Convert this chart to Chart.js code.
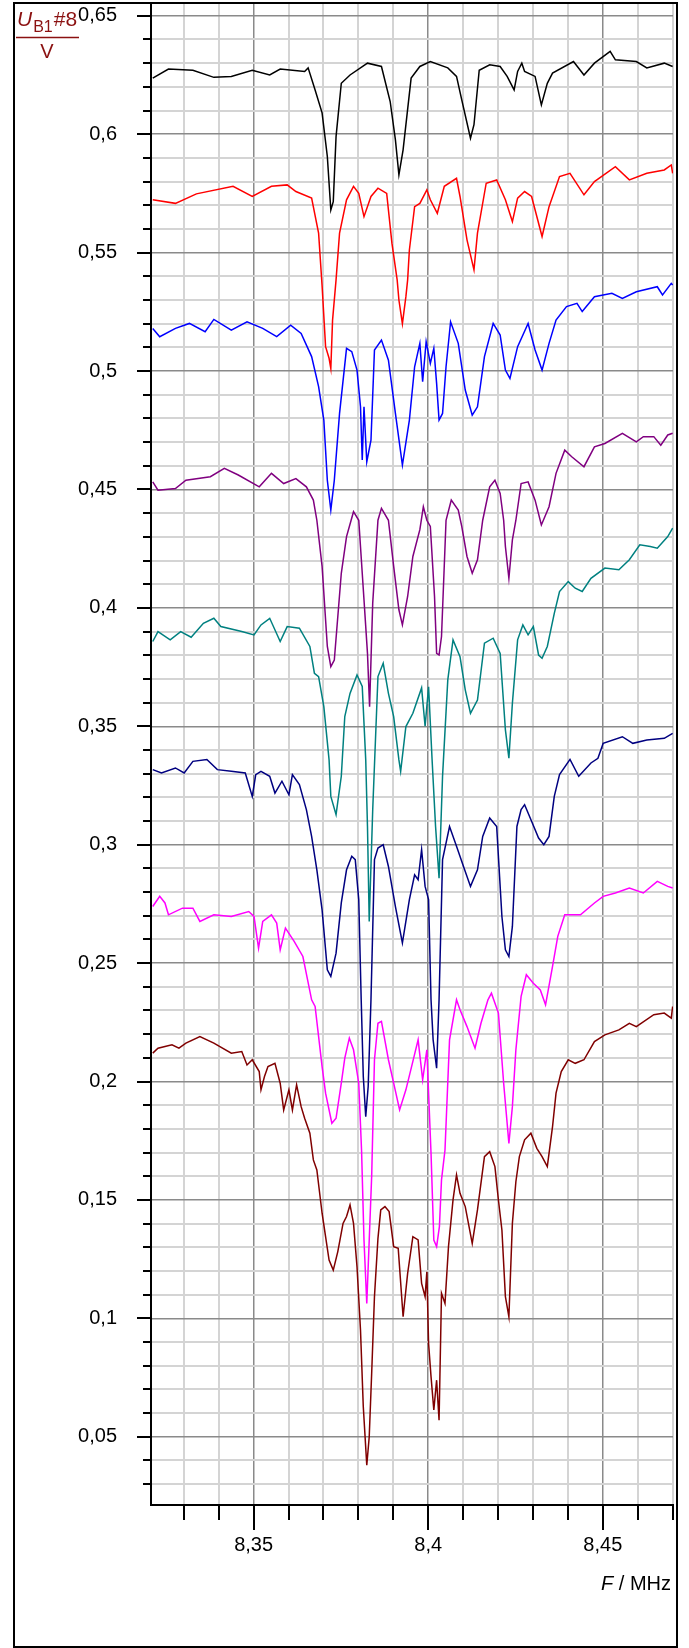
<!DOCTYPE html>
<html>
<head>
<meta charset="utf-8">
<script src="https://cdn.jsdelivr.net/npm/chart.js@4.4.0/dist/chart.umd.min.js"></script>
<style>
  html, body { margin: 0; padding: 0; background: #fff; }
  canvas { display: block; }
</style>
</head>
<body>
<canvas id="spektrum" width="689" height="1648"></canvas>
<script>

var kurveSchwarz = [[8.3211,0.6237],[8.3256,0.6275],[8.3326,0.627],[8.3386,0.624],[8.3436,0.6244],[8.3496,0.627],[8.3546,0.625],[8.3576,0.6275],[8.3646,0.6265],[8.3656,0.628],[8.3676,0.6187],[8.3696,0.609],[8.3711,0.5906],[8.3721,0.568],[8.3728,0.5715],[8.3736,0.599],[8.3751,0.6215],[8.3776,0.625],[8.3826,0.63],[8.3866,0.6286],[8.3891,0.6138],[8.3906,0.5976],[8.3916,0.5828],[8.3928,0.5934],[8.3951,0.6237],[8.3976,0.6286],[8.4006,0.6307],[8.4056,0.628],[8.4081,0.6244],[8.4096,0.6145],[8.4121,0.5983],[8.4131,0.604],[8.4146,0.627],[8.4176,0.6293],[8.4206,0.6286],[8.4226,0.6244],[8.4246,0.6187],[8.4256,0.6265],[8.4268,0.63],[8.4276,0.6265],[8.4306,0.6244],[8.4324,0.6124],[8.4341,0.6215],[8.4356,0.6258],[8.4416,0.6307],[8.4446,0.625],[8.4476,0.63],[8.4521,0.635],[8.4536,0.6314],[8.4596,0.6307],[8.4626,0.628],[8.4676,0.63],[8.47,0.6286]];

var kurveRot = [[8.3211,0.5723],[8.3276,0.5708],[8.3336,0.5748],[8.3441,0.578],[8.3496,0.5737],[8.3551,0.578],[8.3596,0.5786],[8.3621,0.5758],[8.3666,0.573],[8.3686,0.5582],[8.3696,0.536],[8.3706,0.5103],[8.3716,0.5054],[8.3721,0.5011],[8.3726,0.5215],[8.3736,0.5385],[8.3746,0.5582],[8.3766,0.5723],[8.3786,0.578],[8.3801,0.575],[8.3816,0.5652],[8.3836,0.5737],[8.3856,0.5772],[8.3881,0.575],[8.3896,0.554],[8.3911,0.5385],[8.3916,0.53],[8.3926,0.52],[8.3936,0.5314],[8.3941,0.5385],[8.3946,0.5511],[8.3961,0.5694],[8.3976,0.5708],[8.3996,0.5765],[8.4006,0.5723],[8.4026,0.5666],[8.4046,0.578],[8.4081,0.5814],[8.4091,0.5737],[8.4111,0.5554],[8.4131,0.5427],[8.4141,0.5582],[8.4166,0.5793],[8.4196,0.5807],[8.4221,0.5723],[8.4241,0.5631],[8.4256,0.573],[8.4276,0.5758],[8.4296,0.5737],[8.4326,0.5568],[8.4346,0.5694],[8.4376,0.5821],[8.4406,0.5835],[8.4446,0.5744],[8.4476,0.58],[8.4536,0.5863],[8.4576,0.5807],[8.4626,0.5835],[8.4676,0.5849],[8.4696,0.587],[8.47,0.5835]];

var kurveBlau = [[8.3211,0.518],[8.3231,0.5145],[8.3276,0.518],[8.3316,0.5201],[8.3361,0.5166],[8.3386,0.5218],[8.3436,0.5173],[8.3481,0.5208],[8.3526,0.518],[8.3566,0.5145],[8.3606,0.5194],[8.3636,0.5159],[8.3666,0.5061],[8.3686,0.4934],[8.3701,0.4793],[8.3711,0.4539],[8.3721,0.4413],[8.3731,0.4539],[8.3746,0.4821],[8.3766,0.5096],[8.3781,0.5082],[8.3796,0.5004],[8.3806,0.4849],[8.3811,0.4624],[8.3816,0.4849],[8.3824,0.4617],[8.3836,0.4708],[8.3846,0.5089],[8.3866,0.5131],[8.3886,0.5046],[8.3906,0.4821],[8.3926,0.4603],[8.3946,0.4793],[8.3961,0.5018],[8.3976,0.5117],[8.3984,0.4955],[8.3994,0.5124],[8.4006,0.5032],[8.4016,0.5096],[8.4024,0.4948],[8.4031,0.4793],[8.4041,0.4821],[8.4051,0.5018],[8.4064,0.5208],[8.4086,0.5117],[8.4106,0.492],[8.4126,0.4814],[8.4141,0.4849],[8.4161,0.5061],[8.4186,0.5201],[8.4206,0.5152],[8.4221,0.5004],[8.4234,0.4969],[8.4256,0.5103],[8.4286,0.5201],[8.4306,0.5089],[8.4326,0.5004],[8.4346,0.5117],[8.4366,0.5215],[8.4396,0.5272],[8.4426,0.5286],[8.4441,0.5251],[8.4476,0.5314],[8.4526,0.5328],[8.4556,0.5307],[8.4596,0.5335],[8.4656,0.5356],[8.4671,0.5321],[8.4696,0.537],[8.47,0.5363]];

var kurveLila = [[8.3211,0.4532],[8.3226,0.4497],[8.3276,0.4504],[8.3306,0.4539],[8.3376,0.4554],[8.3416,0.4589],[8.3456,0.4561],[8.3516,0.4511],[8.3551,0.4568],[8.3586,0.4525],[8.3621,0.4546],[8.3651,0.4511],[8.3671,0.4455],[8.3681,0.437],[8.3696,0.4175],[8.3711,0.3837],[8.3721,0.3752],[8.3731,0.378],[8.3751,0.4146],[8.3766,0.4301],[8.3786,0.4406],[8.3801,0.437],[8.3816,0.4034],[8.3826,0.3808],[8.3832,0.3583],[8.3841,0.402],[8.3856,0.437],[8.3866,0.442],[8.3886,0.437],[8.3901,0.4175],[8.3916,0.3992],[8.3926,0.3928],[8.3941,0.4048],[8.3956,0.4217],[8.3976,0.433],[8.3986,0.4427],[8.3996,0.437],[8.4006,0.4344],[8.4018,0.4048],[8.4024,0.3808],[8.4031,0.3801],[8.4038,0.3879],[8.4051,0.437],[8.4066,0.4455],[8.4086,0.4413],[8.4096,0.4344],[8.4111,0.4217],[8.4126,0.4146],[8.4141,0.4203],[8.4156,0.437],[8.4176,0.4511],[8.4191,0.4539],[8.4206,0.4483],[8.4216,0.437],[8.4221,0.4259],[8.4231,0.4125],[8.4241,0.4287],[8.4251,0.437],[8.4266,0.4525],[8.4286,0.4532],[8.4306,0.4455],[8.4324,0.435],[8.4346,0.4427],[8.4366,0.4568],[8.4391,0.4666],[8.4411,0.4638],[8.4446,0.4596],[8.4476,0.468],[8.4506,0.4694],[8.4556,0.4737],[8.4596,0.4701],[8.4616,0.4723],[8.4646,0.4723],[8.4666,0.4687],[8.4686,0.473],[8.47,0.4737]];

var kurveTuerkis = [[8.3211,0.3858],[8.3226,0.39],[8.3261,0.3865],[8.3291,0.39],[8.3321,0.3876],[8.3356,0.3935],[8.3386,0.3956],[8.3406,0.3921],[8.3466,0.39],[8.3501,0.3886],[8.3521,0.3928],[8.3546,0.3956],[8.3576,0.3858],[8.3596,0.3921],[8.3631,0.3914],[8.3661,0.3837],[8.3674,0.3724],[8.3686,0.371],[8.3701,0.3583],[8.3716,0.3358],[8.3721,0.3204],[8.3736,0.3127],[8.3751,0.3289],[8.3761,0.3541],[8.3776,0.3639],[8.3796,0.3717],[8.3811,0.3668],[8.3821,0.3358],[8.3826,0.3077],[8.3831,0.2676],[8.3841,0.3148],[8.3856,0.371],[8.3871,0.3766],[8.3886,0.3639],[8.3901,0.3541],[8.3916,0.3358],[8.3921,0.331],[8.3936,0.3499],[8.3956,0.3555],[8.3981,0.3662],[8.3991,0.35],[8.4001,0.3667],[8.4011,0.336],[8.4021,0.3077],[8.4031,0.2859],[8.4041,0.3289],[8.4056,0.3696],[8.4071,0.3865],[8.4091,0.3794],[8.4106,0.3654],[8.4121,0.3555],[8.4141,0.3611],[8.4161,0.3851],[8.4186,0.3872],[8.4206,0.3808],[8.4221,0.3485],[8.4231,0.3365],[8.4241,0.3597],[8.4256,0.3865],[8.4271,0.3928],[8.4286,0.3886],[8.4301,0.3921],[8.4316,0.3801],[8.4326,0.3787],[8.4341,0.3837],[8.4361,0.3977],[8.4376,0.4069],[8.4401,0.4111],[8.4421,0.4083],[8.4441,0.4069],[8.4466,0.4125],[8.4506,0.4168],[8.4546,0.4161],[8.4576,0.4203],[8.4606,0.4266],[8.4636,0.4259],[8.4656,0.4252],[8.4686,0.4301],[8.47,0.4337]];

var kurveMarine = [[8.3211,0.3317],[8.3236,0.3303],[8.3276,0.3324],[8.3301,0.3303],[8.3326,0.3352],[8.3366,0.336],[8.3396,0.3317],[8.3436,0.331],[8.3476,0.3303],[8.3496,0.3204],[8.3506,0.3296],[8.3521,0.331],[8.3546,0.3289],[8.3561,0.3218],[8.3581,0.3268],[8.3601,0.3211],[8.3611,0.3296],[8.3631,0.3254],[8.3651,0.3148],[8.3666,0.3035],[8.3681,0.2894],[8.3696,0.2725],[8.3711,0.2472],[8.3721,0.2444],[8.3736,0.2542],[8.3751,0.2754],[8.3766,0.2894],[8.3781,0.2951],[8.3791,0.2937],[8.3801,0.2768],[8.3808,0.2345],[8.3814,0.2021],[8.3821,0.1852],[8.3828,0.1979],[8.3836,0.2345],[8.3846,0.2937],[8.3856,0.2986],[8.3871,0.3],[8.3886,0.2908],[8.3906,0.2739],[8.3926,0.2585],[8.3946,0.2768],[8.3961,0.2873],[8.3971,0.2852],[8.3981,0.2979],[8.3991,0.2824],[8.4001,0.2768],[8.4008,0.2345],[8.4014,0.2176],[8.4024,0.2056],[8.4031,0.2345],[8.4041,0.2937],[8.4061,0.3077],[8.4081,0.2993],[8.4101,0.2908],[8.4121,0.2824],[8.4141,0.2894],[8.4156,0.3035],[8.4176,0.3113],[8.4196,0.3077],[8.4211,0.2697],[8.4221,0.2556],[8.4231,0.2528],[8.4241,0.2655],[8.4254,0.3077],[8.4266,0.3148],[8.4276,0.3169],[8.4296,0.3099],[8.4316,0.3028],[8.4331,0.3],[8.4346,0.3035],[8.4361,0.3204],[8.4376,0.3296],[8.4406,0.336],[8.4431,0.3289],[8.4466,0.3345],[8.4486,0.3365],[8.4501,0.3428],[8.4556,0.3456],[8.4586,0.3428],[8.4626,0.3442],[8.4676,0.3449],[8.47,0.347]];

var kurveMagenta = [[8.3211,0.2739],[8.3231,0.2782],[8.3246,0.2754],[8.3256,0.2704],[8.3296,0.2732],[8.3326,0.2732],[8.3346,0.2676],[8.3386,0.2704],[8.3436,0.2697],[8.3486,0.2718],[8.3501,0.2697],[8.3514,0.2563],[8.3526,0.2676],[8.3551,0.2704],[8.3566,0.2669],[8.3576,0.2556],[8.3591,0.2648],[8.3616,0.2592],[8.3641,0.2528],[8.3666,0.2345],[8.3676,0.2317],[8.3696,0.2063],[8.3706,0.1951],[8.3724,0.1824],[8.3736,0.1845],[8.3751,0.1993],[8.3761,0.2099],[8.3774,0.2183],[8.3786,0.2134],[8.3801,0.1993],[8.3809,0.1711],[8.3816,0.1331],[8.3824,0.1063],[8.3831,0.1331],[8.3838,0.16],[8.3846,0.2092],[8.3856,0.2246],[8.3866,0.2254],[8.3886,0.2092],[8.3901,0.1993],[8.3918,0.188],[8.3936,0.1965],[8.3956,0.2085],[8.3971,0.2176],[8.3984,0.2007],[8.3996,0.2134],[8.4008,0.1697],[8.4016,0.1331],[8.4024,0.1303],[8.4032,0.1387],[8.4038,0.1585],[8.4048,0.1711],[8.4061,0.2176],[8.4081,0.2345],[8.4091,0.2303],[8.4111,0.2232],[8.4134,0.2141],[8.4151,0.2246],[8.4171,0.2345],[8.4181,0.2373],[8.4201,0.2289],[8.4216,0.1993],[8.4231,0.1739],[8.4241,0.1894],[8.4251,0.2134],[8.4266,0.236],[8.4281,0.2451],[8.4301,0.2415],[8.4321,0.2387],[8.4336,0.2324],[8.4356,0.2486],[8.4371,0.2613],[8.4391,0.2704],[8.4436,0.2704],[8.4476,0.2754],[8.4501,0.2782],[8.4536,0.2796],[8.4576,0.2817],[8.4616,0.2796],[8.4656,0.2845],[8.4686,0.2824],[8.47,0.2817]];

var kurveBraun = [[8.3211,0.212],[8.3226,0.2141],[8.3266,0.2155],[8.3286,0.2141],[8.3306,0.2162],[8.3346,0.219],[8.3386,0.2162],[8.3436,0.212],[8.3466,0.2127],[8.3481,0.207],[8.3496,0.2092],[8.3516,0.2042],[8.3521,0.1965],[8.3531,0.2021],[8.3541,0.2063],[8.3561,0.2077],[8.3576,0.1993],[8.3586,0.188],[8.3601,0.1965],[8.3611,0.188],[8.3623,0.1986],[8.3636,0.1894],[8.3646,0.1845],[8.3661,0.1782],[8.3671,0.1669],[8.3681,0.1627],[8.3696,0.1444],[8.3706,0.1345],[8.3716,0.1246],[8.3728,0.1204],[8.3741,0.1282],[8.3756,0.1401],[8.3766,0.143],[8.3776,0.1479],[8.3786,0.1401],[8.3796,0.1218],[8.3806,0.0951],[8.3814,0.0627],[8.3824,0.038],[8.3831,0.05],[8.3838,0.0768],[8.3846,0.1092],[8.3856,0.1338],[8.3864,0.1458],[8.3876,0.1472],[8.3888,0.1451],[8.3901,0.1303],[8.3914,0.1296],[8.3928,0.1007],[8.3941,0.119],[8.3956,0.1345],[8.3971,0.1331],[8.3981,0.1148],[8.3991,0.1092],[8.3996,0.1197],[8.4001,0.0894],[8.4008,0.0754],[8.4016,0.0613],[8.4024,0.0739],[8.4031,0.057],[8.4038,0.1106],[8.4048,0.1063],[8.4058,0.1303],[8.4071,0.15],[8.4081,0.1606],[8.4091,0.1528],[8.4106,0.1472],[8.4126,0.1317],[8.4141,0.1458],[8.4161,0.1683],[8.4176,0.1704],[8.4191,0.1641],[8.4201,0.15],[8.4211,0.1373],[8.4221,0.1092],[8.4231,0.1007],[8.4241,0.1401],[8.4251,0.1577],[8.4261,0.1683],[8.4276,0.1754],[8.4294,0.1782],[8.4311,0.1718],[8.4326,0.1683],[8.4341,0.1641],[8.4356,0.181],[8.4366,0.1951],[8.4381,0.2042],[8.4401,0.2092],[8.4421,0.2077],[8.4446,0.2092],[8.4476,0.2169],[8.4506,0.2197],[8.4546,0.2218],[8.4576,0.2246],[8.4596,0.2232],[8.4646,0.2282],[8.4676,0.2289],[8.4696,0.2268],[8.47,0.2317]];

var kurven = [kurveSchwarz, kurveRot, kurveBlau, kurveLila, kurveTuerkis, kurveMarine, kurveMagenta, kurveBraun];
var farben = ['#000000', '#ff0000', '#0000ff', '#800080', '#008080', '#000080', '#ff00ff', '#800000'];

// Achsenteilung
var xTicks = [8.33, 8.34, 8.35, 8.36, 8.37, 8.38, 8.39, 8.40, 8.41, 8.42, 8.43, 8.44, 8.45, 8.46, 8.47];
var xHaupt = [8.35, 8.40, 8.45];
var yTicks = [0.03, 0.04, 0.05, 0.06, 0.07, 0.08, 0.09, 0.10, 0.11, 0.12, 0.13, 0.14, 0.15, 0.16, 0.17, 0.18, 0.19, 0.20,
  0.21, 0.22, 0.23, 0.24, 0.25, 0.26, 0.27, 0.28, 0.29, 0.30, 0.31, 0.32, 0.33, 0.34, 0.35, 0.36, 0.37, 0.38, 0.39, 0.40,
  0.41, 0.42, 0.43, 0.44, 0.45, 0.46, 0.47, 0.48, 0.49, 0.50, 0.51, 0.52, 0.53, 0.54, 0.55, 0.56, 0.57, 0.58, 0.59, 0.60,
  0.61, 0.62, 0.63, 0.64, 0.65];
var yHaupt = [0.05, 0.10, 0.15, 0.20, 0.25, 0.30, 0.35, 0.40, 0.45, 0.50, 0.55, 0.60, 0.65];

var schrift = "'Liberation Sans', Arial, Helvetica, sans-serif";
var titelFarbe = '#8b1111';

function istHaupt(wert, liste) {
  for (var i = 0; i < liste.length; i++) {
    if (Math.abs(wert - liste[i]) < 1e-6) return true;
  }
  return false;
}

function mitKomma(wert) {
  return String(+wert.toFixed(2)).replace('.', ',');
}

var datensaetze = kurven.map(function (kurve, i) {
  return {
    data: kurve.map(function (p) { return { x: p[0], y: p[1] }; }),
    borderColor: farben[i],
    borderWidth: 1.5,
    pointRadius: 0,
    fill: false,
    tension: 0
  };
});

// Teilstriche, Rahmen und Achsentitel
var zusatz = {
  id: 'zusatz',
  afterDraw: function (chart) {
    var ctx = chart.ctx;
    var area = chart.chartArea;
    var sx = chart.scales.x, sy = chart.scales.y;
    ctx.save();
    ctx.strokeStyle = '#000';
    ctx.lineWidth = 2;
    yTicks.forEach(function (v) {
      var py = Math.round(sy.getPixelForValue(v));
      var len = istHaupt(v, yHaupt) ? 14 : 8;
      ctx.beginPath();
      ctx.moveTo(area.left - len, py);
      ctx.lineTo(area.left, py);
      ctx.stroke();
    });
    xTicks.forEach(function (v) {
      var px = Math.round(sx.getPixelForValue(v));
      var len = istHaupt(v, xHaupt) ? 25 : 15;
      ctx.beginPath();
      ctx.moveTo(px, area.bottom);
      ctx.lineTo(px, area.bottom + len);
      ctx.stroke();
    });

    // Rahmen um das Bild
    ctx.lineWidth = 2;
    ctx.strokeRect(14, 3, 663, 1644);

    // y-Titel als Bruch
    ctx.fillStyle = titelFarbe;
    ctx.textBaseline = 'alphabetic';
    ctx.textAlign = 'left';
    var x = 17;
    ctx.font = 'italic 21px ' + schrift;
    ctx.fillText('U', x, 26);
    x += ctx.measureText('U').width + 1;
    ctx.font = '16px ' + schrift;
    ctx.fillText('B1', x, 32);
    x += ctx.measureText('B1').width + 1;
    ctx.font = '21px ' + schrift;
    ctx.fillText('#8', x, 26);
    ctx.strokeStyle = titelFarbe;
    ctx.lineWidth = 1.5;
    ctx.beginPath();
    ctx.moveTo(16, 37.5);
    ctx.lineTo(79, 37.5);
    ctx.stroke();
    ctx.textAlign = 'center';
    ctx.font = '20px ' + schrift;
    ctx.fillText('V', 47, 58);

    // x-Titel
    ctx.fillStyle = '#000';
    ctx.textAlign = 'right';
    ctx.font = '20px ' + schrift;
    var rest = ' / MHz';
    ctx.fillText(rest, 671, 1590);
    var w = ctx.measureText(rest).width;
    ctx.font = 'italic 20px ' + schrift;
    ctx.fillText('F', 671 - w, 1590);
    ctx.restore();
  }
};

var ctx = document.getElementById('spektrum').getContext('2d');
var chart = new Chart(ctx, {
  type: 'line',
  data: { datasets: datensaetze },
  options: {
    responsive: false,
    animation: false,
    devicePixelRatio: 1,
    layout: { padding: { left: 0, right: 16, top: 3, bottom: 0 } },
    plugins: { legend: { display: false }, tooltip: { enabled: false } },
    scales: {
      x: {
        type: 'linear',
        min: 8.3206,
        max: 8.4701,
        afterBuildTicks: function (scale) {
          scale.ticks = xTicks.map(function (v) { return { value: v }; });
        },
        afterFit: function (scale) {
          scale.height = 143;
          scale.paddingLeft = 0;
          scale.paddingRight = 0;
        },
        grid: {
          color: function (c) { return istHaupt(c.tick.value, xHaupt) ? '#8a8a8a' : '#d4d4d4'; },
          lineWidth: function (c) { return istHaupt(c.tick.value, xHaupt) ? 1.5 : 2; },
          tickLength: 25,
          tickColor: 'rgba(0,0,0,0)'
        },
        border: { color: '#000', width: 2 },
        ticks: {
          autoSkip: false,
          maxRotation: 0,
          padding: 3,
          color: '#000',
          font: { family: schrift, size: 20 },
          callback: function (v) { return istHaupt(v, xHaupt) ? mitKomma(v) : ''; }
        }
      },
      y: {
        type: 'linear',
        min: 0.0212,
        max: 0.6554,
        afterBuildTicks: function (scale) {
          scale.ticks = yTicks.map(function (v) { return { value: v }; });
        },
        afterFit: function (scale) {
          scale.width = 151;
          scale.paddingTop = 0;
          scale.paddingBottom = 0;
        },
        grid: {
          color: function (c) { return istHaupt(c.tick.value, yHaupt) ? '#8a8a8a' : '#d4d4d4'; },
          lineWidth: function (c) { return istHaupt(c.tick.value, yHaupt) ? 1.5 : 2; },
          tickLength: 14,
          tickColor: 'rgba(0,0,0,0)'
        },
        border: { color: '#000', width: 2 },
        ticks: {
          autoSkip: false,
          padding: 20,
          color: '#000',
          font: { family: schrift, size: 20 },
          callback: function (v) { return istHaupt(v, yHaupt) ? mitKomma(v) : ''; }
        }
      }
    }
  },
  plugins: [zusatz]
});
</script>
</body>
</html>
